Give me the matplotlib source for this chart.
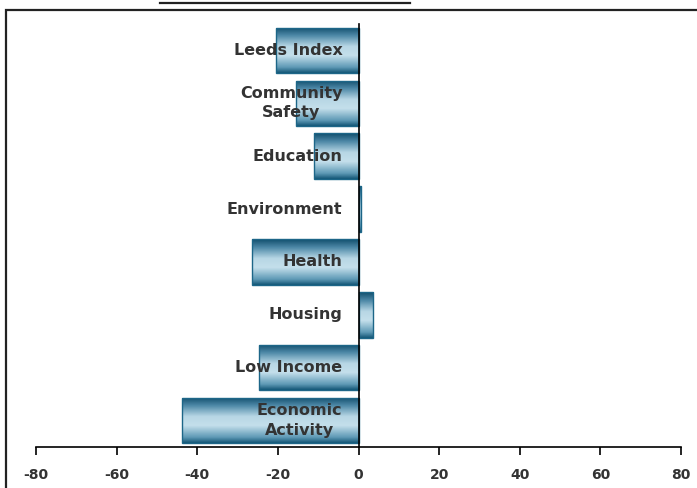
import numpy as np
import matplotlib
matplotlib.use("Agg")
import matplotlib.pyplot as plt
from matplotlib.colors import LinearSegmentedColormap
from matplotlib.patches import Rectangle
from matplotlib.lines import Line2D

categories = ["Leeds Index", "Community\nSafety", "Education", "Environment",
              "Health", "Housing", "Low Income", "Economic\nActivity"]
values = [-20.5, -15.5, -11.0, 0.7, -26.5, 3.7, -24.8, -43.9]
xticks = [-80, -60, -40, -20, 0, 20, 40, 60, 80]

fig = plt.figure(figsize=(6.97, 4.88), dpi=100)
ax = fig.add_axes([36/697, 41/488, 645/697, 423/488])

cmap = LinearSegmentedColormap.from_list(
    "tube", [(0.0, "#165878"), (0.12, "#5f9ab6"), (0.38, "#c4dfeb"),
             (0.58, "#b8d7e5"), (0.82, "#4f8aa8"), (1.0, "#124f6e")])
grad = np.linspace(0, 1, 64).reshape(-1, 1)

ypos = np.arange(len(categories))
bars = ax.barh(ypos, values, height=0.86, color="none",
               edgecolor="#1d6688", linewidth=1.0, zorder=3)
for b in bars:
    x0 = b.get_x()
    x1 = x0 + b.get_width()
    y0 = b.get_y()
    y1 = y0 + b.get_height()
    im = ax.imshow(grad, cmap=cmap, aspect="auto",
                   extent=(min(x0, x1), max(x0, x1), y0, y1), zorder=2)
    im.set_clip_path(b)

for y, lab in zip(ypos, categories):
    ax.text(-4, y, lab, ha="right", va="center", multialignment="center",
            fontsize=11.5, fontweight="bold", color="#333333", zorder=5,
            linespacing=1.35)

ax.set_xlim(-80, 80)
ax.set_ylim(7.5, -0.5)
ax.set_xticks(xticks)
ax.set_xticklabels([str(t) for t in xticks], fontsize=10, fontweight="bold",
                   color="#333333")
ax.set_yticks([])
ax.tick_params(axis="x", direction="out", length=6, width=1.2, pad=9)
for s in ["top", "right"]:
    ax.spines[s].set_visible(False)
ax.spines["left"].set_position(("data", 0))
ax.spines["left"].set_linewidth(1.2)
ax.spines["left"].set_zorder(6)
ax.spines["bottom"].set_linewidth(1.2)

# outer frame and top rule
fig.patches.append(Rectangle((6/697, -0.1), 1.0, 1 - 10/488 + 0.1,
                             transform=fig.transFigure, fill=False,
                             edgecolor="#222222", linewidth=1.6))
fig.lines.append(Line2D([160/697, 410/697], [1 - 2.5/488, 1 - 2.5/488],
                        transform=fig.transFigure, color="#222222",
                        linewidth=1.6))

plt.savefig("out.png", dpi=100)
